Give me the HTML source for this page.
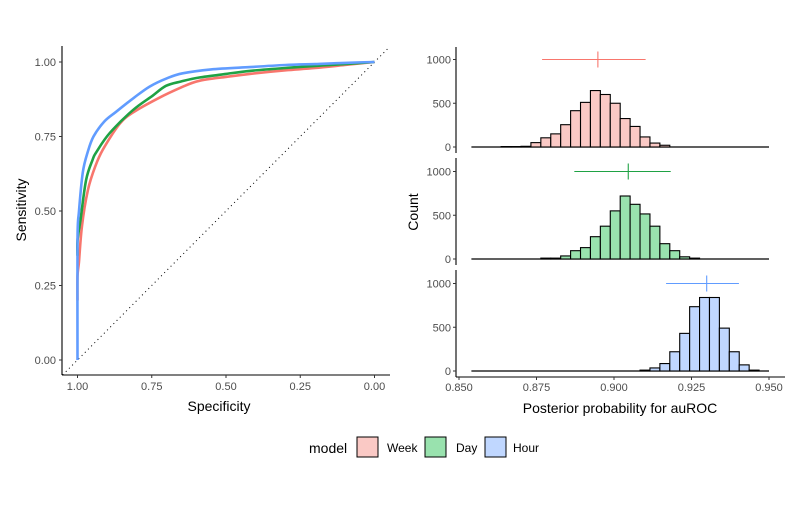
<!DOCTYPE html>
<html><head><meta charset="utf-8"><style>
body{margin:0;background:#fff;}
svg{display:block;font-family:"Liberation Sans",Arial,sans-serif;}
</style></head><body>
<svg id="c" width="800" height="512" viewBox="0 0 800 512"></svg>
<script>
// ROC data: specificity / sensitivity
const rocModels = ["Week","Day","Hour"];
const weekSpec = [1.0,1.0,0.995,0.985,0.965,0.94,0.915,0.86,0.814,0.725,0.65,0.59,0.5,0.42,0.3,0.2,0.1,0.0];
const weekSens = [0.2,0.28,0.33,0.45,0.57,0.65,0.705,0.79,0.83,0.88,0.915,0.937,0.95,0.96,0.972,0.98,0.99,1.0];
const daySpec = [1.0,1.0,0.99,0.971,0.95,0.935,0.892,0.814,0.75,0.702,0.65,0.59,0.5,0.42,0.3,0.2,0.1,0.0];
const daySens = [0.35,0.4,0.47,0.604,0.67,0.7,0.761,0.838,0.885,0.92,0.935,0.948,0.96,0.97,0.98,0.987,0.993,1.0];
const hourSpec = [1.0,1.0,0.995,0.982,0.965,0.946,0.91,0.87,0.81,0.758,0.7,0.646,0.55,0.42,0.3,0.2,0.1,0.0];
const hourSens = [0.0,0.4,0.5,0.63,0.7,0.75,0.8,0.833,0.88,0.917,0.945,0.962,0.975,0.983,0.99,0.993,0.997,1.0];
// Histogram data: 30 bins from 0.854, width 0.0032
const binStart = 0.854, binWidth = 0.0032;
const weekCounts = [0,0,0,5,5,8,50,105,150,255,415,510,645,600,500,325,235,115,45,20,0,0,0,0,0,0,0,0,0,0];
const dayCounts  = [0,0,0,0,0,0,0,10,10,35,95,130,255,375,550,720,625,515,375,175,95,25,10,0,0,0,0,0,0,0];
const hourCounts = [0,0,0,0,0,0,0,0,0,0,0,0,0,0,0,0,0,10,35,85,220,430,735,840,840,490,220,70,10,0];
const weekInterval = [0.8768,0.8948,0.9102];
const dayInterval  = [0.8872,0.9046,0.9183];
const hourInterval = [0.9168,0.9299,0.9403];
const yTicksRoc = [0,0.25,0.5,0.75,1.0];
const yTickLabelsRoc = ["0.00","0.25","0.50","0.75","1.00"];
const xTicksHist = [0.85,0.875,0.9,0.925,0.95];
const xTickLabelsHist = ["0.850","0.875","0.900","0.925","0.950"];
const countTicks = [0,500,1000];

const NS="http://www.w3.org/2000/svg";
const svg=document.getElementById('c');
function el(tag,attrs,parent){const e=document.createElementNS(NS,tag);for(const k in attrs)e.setAttribute(k,attrs[k]);(parent||svg).appendChild(e);return e;}
function txt(s,attrs){const e=el('text',attrs);e.textContent=s;return e;}

const lineCol={Week:"#F8766D",Day:"#1fa244",Hour:"#619CFF"};
const fillCol={Week:"#fac9c5",Day:"#99e2ae",Hour:"#c0d7ff"};

// ROC axes
const rx=s=>77.5+(1-s)*297;
const ry=v=>360-v*298;
let e;
e=el('line',{x1:62,y1:46,x2:62,y2:375,stroke:"#000","stroke-width":1.1});

e=el('line',{x1:62,y1:375,x2:390,y2:375,stroke:"#000","stroke-width":1.1});

yTicksRoc.forEach((v,i)=>{
  el('line',{x1:59,x2:62,y1:ry(v),y2:ry(v),stroke:"#333"});
  const t=txt(yTickLabelsRoc[i],{x:56,y:ry(v)+4,"text-anchor":"end","font-size":11,fill:"#4d4d4d"});
  
  el('line',{x1:rx(v),x2:rx(v),y1:375,y2:378,stroke:"#333"});
  const t2=txt(yTickLabelsRoc[i],{x:rx(v),y:390,"text-anchor":"middle","font-size":11,fill:"#4d4d4d"});
  
});
e=el('line',{x1:rx(1.05),y1:ry(-0.05),x2:rx(-0.05),y2:ry(1.05),stroke:"#000","stroke-dasharray":"1 3.5","stroke-width":1});

function smoothPath(pts){
  let d="M"+pts[0][0].toFixed(1)+","+pts[0][1].toFixed(1);
  for(let i=0;i<pts.length-1;i++){
    const p0=pts[Math.max(0,i-1)],p1=pts[i],p2=pts[i+1],p3=pts[Math.min(pts.length-1,i+2)];
    const c1=[p1[0]+(p2[0]-p0[0])/6,p1[1]+(p2[1]-p0[1])/6];
    const c2=[p2[0]-(p3[0]-p1[0])/6,p2[1]-(p3[1]-p1[1])/6];
    d+="C"+c1[0].toFixed(1)+","+c1[1].toFixed(1)+" "+c2[0].toFixed(1)+","+c2[1].toFixed(1)+" "+p2[0].toFixed(1)+","+p2[1].toFixed(1);
  }
  return d;
}
[[weekSpec,weekSens,"Week"],[daySpec,daySens,"Day"],[hourSpec,hourSens,"Hour"]].forEach(([sp,se,m])=>{
  const pts=sp.map((s,i)=>[rx(s),ry(se[i])]);
  const p=el('path',{d:smoothPath(pts),fill:"none",stroke:lineCol[m],"stroke-width":2.6,"stroke-linejoin":"round"});
  
});
e=txt("Specificity",{x:219,y:411,"text-anchor":"middle","font-size":14,fill:"#000"});

e=txt("Sensitivity",{x:26,y:210,"text-anchor":"middle","font-size":14,fill:"#000",transform:"rotate(-90 26 210)"});


// Histograms
const AX=456;
const hx=v=>459+(v-0.85)*3100;
const panels=[[weekCounts,weekInterval,"Week",47,147],[dayCounts,dayInterval,"Day",158,259],[hourCounts,hourInterval,"Hour",270,371]];
panels.forEach(([counts,iv,m,top,base])=>{
  const hy=c=>base-c*0.0875;
  e=el('line',{x1:AX,y1:top,x2:AX,y2:base+6,stroke:"#000","stroke-width":1.1});
  
  countTicks.forEach(c=>{
    el('line',{x1:AX-3,x2:AX,y1:hy(c),y2:hy(c),stroke:"#333"});
    const t=txt(String(c),{x:AX-5,y:hy(c)+4,"text-anchor":"end","font-size":11,fill:"#4d4d4d"});
    
  });
  e=el('line',{x1:hx(binStart),x2:hx(binStart+30*binWidth),y1:base,y2:base,stroke:"#000","stroke-width":1.2});
  
  counts.forEach((c,k)=>{
    if(c<=0)return;
    const x0=hx(binStart+k*binWidth),x1=hx(binStart+(k+1)*binWidth);
    const r=el('rect',{x:x0,y:hy(c),width:x1-x0,height:base-hy(c),fill:fillCol[m],stroke:"#000","stroke-width":1.1});
    
  });
  const my=hy(1000);
  e=el('line',{x1:hx(iv[0]),x2:hx(iv[2]),y1:my,y2:my,stroke:lineCol[m],"stroke-width":1.1});
  
  e=el('line',{x1:hx(iv[1]),x2:hx(iv[1]),y1:my-8,y2:my+8,stroke:lineCol[m],"stroke-width":1.1});
  
});
e=el('line',{x1:AX,y1:377,x2:785,y2:377,stroke:"#000","stroke-width":1.1});

xTicksHist.forEach((v,i)=>{
  el('line',{x1:hx(v),x2:hx(v),y1:377,y2:380,stroke:"#333"});
  const t=txt(xTickLabelsHist[i],{x:hx(v),y:391,"text-anchor":"middle","font-size":11,fill:"#4d4d4d"});
  
});
e=txt("Posterior probability for auROC",{x:620,y:413,"text-anchor":"middle","font-size":14,fill:"#000"});

e=txt("Count",{x:418,y:212,"text-anchor":"middle","font-size":14,fill:"#000",transform:"rotate(-90 418 212)"});


// Legend
e=txt("model",{x:309,y:453,"font-size":14,fill:"#000"});

[["Week",357,387],["Day",425,456],["Hour",485,513]].forEach(([m,x,tx])=>{
  const r=el('rect',{x:x,y:437,width:21,height:20,fill:fillCol[m],stroke:"#000","stroke-width":1});
  
  const t=txt(m,{x:tx,y:452,"font-size":12,fill:"#000"});
  
});
</script>
</body></html>
